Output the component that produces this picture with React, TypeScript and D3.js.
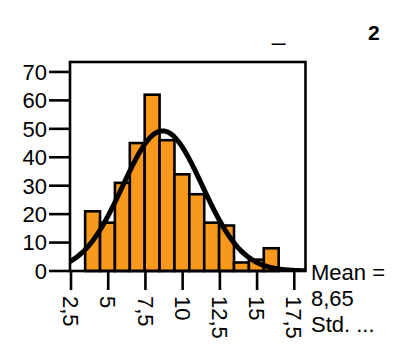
import React from "react";
import * as d3 from "d3";

const counts = [21, 17, 31, 45, 62, 46, 34, 27, 17, 16, 3, 4, 8];
const binStart = 3.45;
const binWidth = 1;
const xTicks = [2.5, 5, 7.5, 10, 12.5, 15, 17.5];
const xTickLabels = ["2,5", "5", "7,5", "10", "12,5", "15", "17,5"];
const yTicks = [0, 10, 20, 30, 40, 50, 60, 70];
const meanValue = 8.65;
const stdValue = 2.68;
const statsLines = ["Mean =", "8,65", "Std. ..."];
const panelTitle = "2";
const subTitle = "_";

const W = 398;
const H = 349;
const FONT = "Liberation Sans, Arial, Helvetica, sans-serif";

export default function App() {
  const left = 70, right = 305.5, top = 62, bottom = 271;
  const x = d3.scaleLinear().domain([2.5, 17.5]).range([71, 294.3]);
  const y = d3.scaleLinear().domain([0, 73.5]).range([bottom, top]);
  const nTotal = d3.sum(counts);

  const xMin = x.invert(left);
  const xMax = x.invert(right);
  const curvePts = d3.range(0, 301).map((i) => {
    const v = xMin + ((xMax - xMin) * i) / 300;
    const z = (v - meanValue) / stdValue;
    const dens = (nTotal * binWidth) / (stdValue * Math.sqrt(2 * Math.PI)) * Math.exp(-0.5 * z * z);
    return [v, dens] as [number, number];
  });
  const line = d3.line<[number, number]>().x((d) => x(d[0])).y((d) => y(d[1])).curve(d3.curveBasis);

  return (
    <svg width={W} height={H} style={{ position: "absolute", left: 0, top: 0, background: "#fff" }} fontFamily={FONT}>
      <defs>
        <clipPath id="plotclip">
          <rect x={left} y={top} width={right - left} height={bottom - top} />
        </clipPath>
      </defs>
      <rect x={0} y={0} width={W} height={H} fill="#fff" />
      {counts.map((c, i) => {
        const x0 = x(binStart + i * binWidth);
        const x1 = x(binStart + (i + 1) * binWidth);
        return (
          <rect key={i} x={x0} y={y(c)} width={x1 - x0} height={y(0) - y(c)} fill="#F8991D" stroke="#000" strokeWidth={2.6} />
        );
      })}
      <path d={line(curvePts) || ""} fill="none" stroke="#000" strokeWidth={5} clipPath="url(#plotclip)" />
      <rect x={left} y={top} width={right - left} height={bottom - top} fill="none" stroke="#000" strokeWidth={2.6} />
      {yTicks.map((t) => (
        <g key={t}>
          <line x1={49} x2={left} y1={y(t)} y2={y(t)} stroke="#000" strokeWidth={2.6} />
          <text x={47} y={y(t)} dy="0.36em" textAnchor="end" fontSize={22} fill="#000">{t}</text>
        </g>
      ))}
      {xTicks.map((t, i) => (
        <g key={t}>
          <line x1={x(t)} x2={x(t)} y1={bottom} y2={290} stroke="#000" strokeWidth={2.6} />
          <text transform={`translate(${x(t)},296) rotate(90)`} dy="0.36em" textAnchor="start" fontSize={22} fill="#000">{xTickLabels[i]}</text>
        </g>
      ))}
      {statsLines.map((s, i) => (
        <text key={i} x={311} y={280 + i * 26} fontSize={22} fill="#000">{s}</text>
      ))}
      <text x={272} y={40} fontSize={24} fill="#000">{subTitle}</text>
      <text x={368} y={40} fontSize={21} fontWeight="bold" fill="#000">{panelTitle}</text>
    </svg>
  );
}
